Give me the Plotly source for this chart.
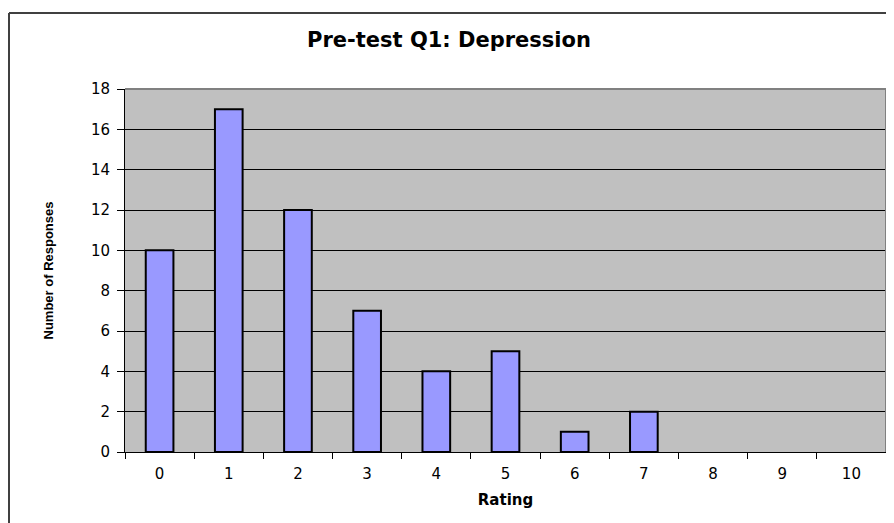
import plotly.graph_objects as go

categories = ["0", "1", "2", "3", "4", "5", "6", "7", "8", "9", "10"]
responses = [10, 17, 12, 7, 4, 5, 1, 2, 0, 0, 0]
y_ticks = [0, 2, 4, 6, 8, 10, 12, 14, 16, 18]

# page body has an 8px offset in the browser
W, H = 886, 515
ml, mr, mt, mb = 117, 8, 81, 71
pw, ph = W - ml - mr, H - mt - mb

fig = go.Figure(go.Bar(
    x=categories, y=responses,
    marker=dict(color="#9999FF",
                line=dict(color="black", width=[2 if v > 0 else 0 for v in responses])),
))

fig.update_layout(
    width=W, height=H,
    margin=dict(l=ml, r=mr, t=mt, b=mb),
    paper_bgcolor="white", plot_bgcolor="#C0C0C0",
    bargap=0.6, showlegend=False,
    font=dict(family="Liberation Sans, Arial, sans-serif", color="black"),
    title=dict(text="<b>Pre-test Q1: Depression</b>", x=441 / W, xanchor="center",
               y=1 - 32 / H, yanchor="middle",
               font=dict(family="DejaVu Sans, sans-serif", size=21, color="black")),
)
fig.update_xaxes(
    type="category", tickson="boundaries", ticks="outside", ticklen=6,
    tickcolor="black", showgrid=False, showline=True, linecolor="black", linewidth=1,
    tickfont=dict(size=15, family="DejaVu Sans, sans-serif"),
    ticklabelstandoff=8,
    title=dict(text="<b>Rating</b>", font=dict(size=15, family="DejaVu Sans, sans-serif"), standoff=12),
)
fig.update_yaxes(
    range=[0, 18], tickvals=y_ticks, ticks="outside", ticklen=7, tickcolor="black",
    showgrid=True, gridcolor="black", gridwidth=1, zeroline=False,
    showline=True, linecolor="black", linewidth=1,
    tickfont=dict(size=15, family="DejaVu Sans, sans-serif"),
    ticklabelstandoff=4,
    title=dict(text="<b>Number of Responses</b>", font=dict(size=13), standoff=34),
)

# gray top/right plot border
fig.add_shape(type="line", xref="paper", yref="paper", x0=0, x1=1, y0=1, y1=1,
              line=dict(color="#808080", width=2), layer="above")
fig.add_shape(type="line", xref="paper", yref="paper", x0=1, x1=1, y0=0, y1=1,
              line=dict(color="#808080", width=2), layer="above")

# outer chart border (left and top edges visible)
ox = (1 - ml) / pw
oy = 1 + (mt - 5) / ph
fig.add_shape(type="line", xref="paper", yref="paper", x0=ox, x1=ox, y0=-0.5, y1=oy,
              line=dict(color="#404040", width=2))
fig.add_shape(type="line", xref="paper", yref="paper", x0=ox, x1=1.5, y0=oy, y1=oy,
              line=dict(color="#404040", width=2))

fig.write_html("out.html")
